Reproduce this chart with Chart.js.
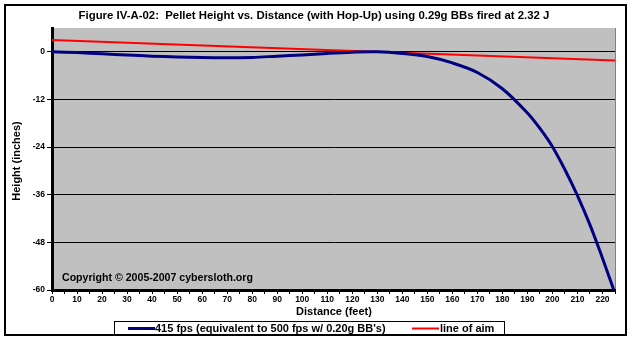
<!DOCTYPE html>
<html>
<head>
<meta charset="utf-8">
<script src="https://cdn.jsdelivr.net/npm/chart.js@4"></script>
<style>
  html, body { margin: 0; padding: 0; background: #fff; }
  #wrap { width: 632px; height: 341px; position: relative; }
</style>
</head>
<body>
<div id="wrap"><canvas id="hopChart" width="632" height="341"></canvas></div>
<script>
// --- data ---
const distance   = [0, 10, 20, 30, 40, 50, 60, 70, 80, 90, 100, 110, 120, 130, 140, 150, 160, 170, 180, 190, 195, 200, 205, 210, 215, 220, 224.5];
const height415  = [0, -0.2, -0.5, -0.8, -1.1, -1.3, -1.45, -1.5, -1.4, -1.1, -0.8, -0.4, -0.1, 0.0, -0.4, -1.2, -2.8, -5.2, -9.3, -15.4, -19.3, -23.9, -29.7, -36.2, -43.6, -52.0, -60];
const aimDistance = [0, 225];
const aimHeight   = [3.0, -2.2];
const xTickLabels = [0, 10, 20, 30, 40, 50, 60, 70, 80, 90, 100, 110, 120, 130, 140, 150, 160, 170, 180, 190, 200, 210, 220];
const yTickLabels = [0, -12, -24, -36, -48, -60];

const titleText = 'Figure IV-A-02:  Pellet Height vs. Distance (with Hop-Up) using 0.29g BBs fired at 2.32 J';
const seriesNames = ["415 fps (equivalent to 500 fps w/ 0.20g BB's)", 'line of aim'];

const FONT = 'Arial, "Liberation Sans", sans-serif';

// background, border, titles, legend, copyright
const decorations = {
    id: 'decorations',
    beforeDraw(chart) {
        const { ctx, chartArea: a } = chart;
        ctx.save();
        ctx.fillStyle = '#fff';
        ctx.fillRect(0, 0, chart.width, chart.height);
        ctx.fillStyle = '#c0c0c0';
        ctx.fillRect(a.left, a.top, a.right - a.left, a.bottom - a.top);
        ctx.strokeStyle = '#808080';
        ctx.lineWidth = 1;
        ctx.beginPath();
        ctx.moveTo(a.right + 0.5, a.top);
        ctx.lineTo(a.right + 0.5, a.bottom);
        ctx.stroke();
        ctx.restore();
    },
    afterDraw(chart) {
        const { ctx } = chart;
        ctx.save();
        // outer frame
        ctx.strokeStyle = '#000';
        ctx.lineWidth = 2;
        ctx.strokeRect(5, 5, 621, 330);

        ctx.fillStyle = '#000';
        ctx.textBaseline = 'middle';
        ctx.textAlign = 'center';
        ctx.font = 'bold 11.4px ' + FONT;
        ctx.fillText(titleText, 314, 15.5);
        ctx.font = 'bold 11px ' + FONT;
        ctx.fillText('Distance (feet)', 334, 312);

        ctx.save();
        ctx.translate(17, 161);
        ctx.rotate(-Math.PI / 2);
        ctx.fillText('Height (inches)', 0, 0);
        ctx.restore();

        // copyright note inside the plot
        ctx.textAlign = 'left';
        ctx.font = 'bold 10.6px ' + FONT;
        ctx.fillText('Copyright \u00a9 2005-2007 cybersloth.org', 62, 278.5);

        // legend box
        ctx.lineWidth = 1;
        ctx.strokeRect(114.5, 321.5, 390, 14);
        const ly = 328.5;
        ctx.strokeStyle = '#000080';
        ctx.lineWidth = 3;
        ctx.beginPath(); ctx.moveTo(128, ly); ctx.lineTo(155, ly); ctx.stroke();
        ctx.strokeStyle = '#ff0000';
        ctx.lineWidth = 2;
        ctx.beginPath(); ctx.moveTo(412, ly); ctx.lineTo(439, ly); ctx.stroke();
        ctx.font = 'bold 11px ' + FONT;
        ctx.fillText(seriesNames[0], 155, ly);
        ctx.fillText(seriesNames[1], 440, ly);
        ctx.restore();
    }
};

const ctx = document.getElementById('hopChart').getContext('2d');
new Chart(ctx, {
    type: 'line',
    data: {
        datasets: [
            {
                label: seriesNames[0],
                data: distance.map((d, i) => ({ x: d, y: height415[i] })),
                borderColor: '#000080',
                borderWidth: 3,
                pointRadius: 0,
                tension: 0.35,
                fill: false
            },
            {
                label: seriesNames[1],
                data: aimDistance.map((d, i) => ({ x: d, y: aimHeight[i] })),
                borderColor: '#ff0000',
                borderWidth: 2,
                pointRadius: 0,
                fill: false
            }
        ]
    },
    options: {
        responsive: false,
        animation: false,
        layout: { padding: { top: 28, left: 0, right: 17, bottom: 0 } },
        scales: {
            x: {
                type: 'linear',
                min: 0,
                max: 225,
                afterFit: s => { s.height = 51; },
                afterBuildTicks: s => {
                    const t = [];
                    for (let v = 0; v <= 225; v += 5) t.push({ value: v });
                    s.ticks = t;
                },
                border: { display: true, color: '#000', width: 3 },
                grid: { drawOnChartArea: false, drawTicks: true, tickLength: 4, color: '#000', tickWidth: 1 },
                ticks: {
                    autoSkip: false,
                    maxRotation: 0,
                    padding: 1,
                    color: '#000',
                    font: { family: FONT, size: 8.5, weight: 'bold' },
                    callback: v => xTickLabels.includes(v) ? String(v) : ''
                }
            },
            y: {
                type: 'linear',
                min: -60,
                max: 6,
                afterFit: s => { s.width = 52; },
                afterBuildTicks: s => { s.ticks = yTickLabels.map(v => ({ value: v })); },
                border: { display: true, color: '#000', width: 3 },
                grid: { color: '#000', lineWidth: 1, tickLength: 5 },
                ticks: {
                    padding: 2,
                    color: '#000',
                    font: { family: FONT, size: 8.5, weight: 'bold' },
                    callback: v => String(v)
                }
            }
        },
        plugins: {
            legend: { display: false },
            title: { display: false },
            tooltip: { enabled: false }
        }
    },
    plugins: [decorations]
});
</script>
</body>
</html>
